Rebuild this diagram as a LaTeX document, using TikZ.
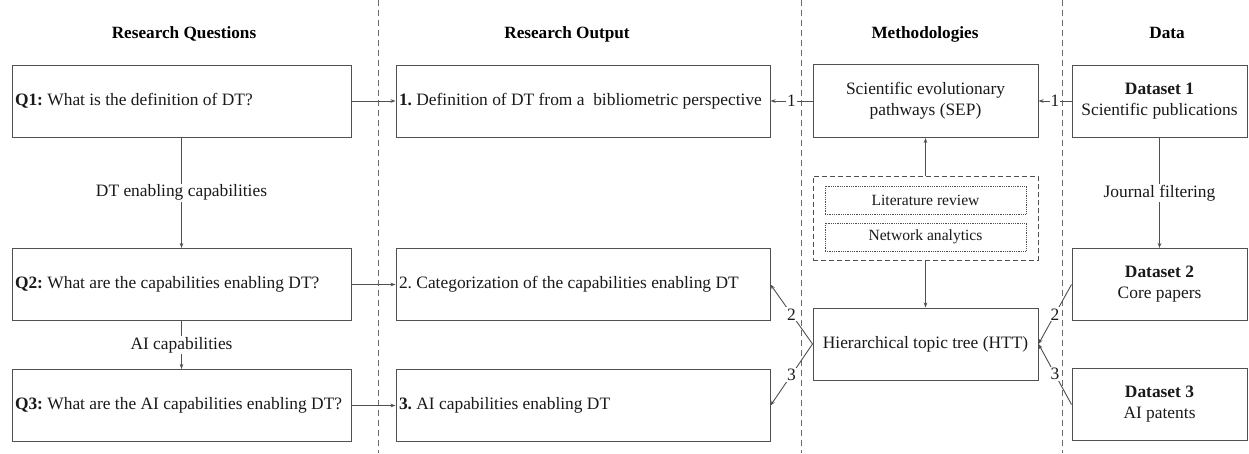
\documentclass[tikz,border=0pt]{standalone}
\usepackage{fontspec}
\setmainfont{Liberation Serif}
\usetikzlibrary{arrows.meta}
\definecolor{ln}{RGB}{80,80,80}
\definecolor{tx}{RGB}{25,25,25}
\frenchspacing
\begin{document}
\begin{tikzpicture}[x=1pt,y=-1pt,
  base/.style={draw=ln, line width=1pt, text=tx, inner sep=0pt, font=\fontsize{17.4}{21}\selectfont\frenchspacing},
  qbox/.style={base, minimum height=72pt, minimum width=339pt, text width=333pt, inner xsep=3pt, align=flush left},
  obox/.style={base, minimum height=72pt, minimum width=374pt, text width=368pt, inner xsep=3pt, align=flush left},
  mbox/.style={base, minimum height=73pt, minimum width=225pt, align=center},
  dbox/.style={base, minimum height=72pt, minimum width=175pt, align=center},
  grpbox/.style={draw=ln, line width=0.9pt, dash pattern=on 5pt off 3pt, minimum width=225pt, minimum height=84pt, inner sep=0pt},
  dotbox/.style={draw=ln, line width=0.8pt, densely dotted, minimum width=201pt, minimum height=28pt, inner sep=0pt, text=tx, font=\fontsize{15.6}{18}\selectfont},
  hdr/.style={text=black, font=\bfseries\fontsize{17.2}{20}\selectfont, anchor=base},
  arr/.style={draw=ln, line width=0.9pt, -{Stealth[length=5pt,width=3.6pt]}},
  lbl/.style={fill=white, inner sep=1pt, text=tx, font=\fontsize{17.4}{20}\selectfont},
  divider/.style={draw=ln!85, line width=0.9pt, dash pattern=on 6pt off 4pt}
]
\useasboundingbox (0,0) rectangle (1249,453);

% dividers
\draw[divider] (378,0) -- (378,453);
\draw[divider] (801,0) -- (801,453);
\draw[divider] (1062,0) -- (1062,453);

% headers
\node[hdr] (h1) at (184,38) {Research Questions};
\node[hdr] (h2) at (567,38) {Research Output};
\node[hdr] (h3) at (925,38) {Methodologies};
\node[hdr] (h4) at (1167,38) {Data};

% research questions
\node[qbox] (q1) at (181.5,101) {\textbf{Q1:} What is the definition of DT?};
\node[qbox] (q2) at (181.5,284.5) {\textbf{Q2:} What are the capabilities enabling DT?};
\node[qbox] (q3) at (181.5,405.5) {\textbf{Q3:} What are the AI capabilities enabling DT?};

% research output
\node[obox] (o1) at (583,101) {\textbf{1.} Definition of DT from a\ \ bibliometric perspective};
\node[obox] (o2) at (583,284.5) {2. Categorization of the capabilities enabling DT};
\node[obox] (o3) at (583,405.5) {\textbf{3.} AI capabilities enabling DT};

% methodologies
\node[mbox] (sep) at (925.5,101) {Scientific evolutionary\\pathways (SEP)};
\node[grpbox] (grp) at (925.5,218) {};
\node[dotbox] (lit) at (925.5,200) {Literature review};
\node[dotbox] (net) at (925.5,237) {Network analytics};
\node[mbox, minimum height=72pt] (htt) at (925.5,344) {Hierarchical topic tree (HTT)};

% data
\node[dbox] (d1) at (1159.5,101) {\textbf{Dataset 1}\\Scientific publications};
\node[dbox] (d2) at (1159.5,284.5) {\textbf{Dataset 2}\\Core papers};
\node[dbox] (d3) at (1159.5,404.5) {\textbf{Dataset 3}\\AI patents};

% connectors
\draw[arr] (q1) -- (o1);
\draw[arr] (q2) -- (o2);
\draw[arr] (q3) -- (o3);
\draw[arr] (q1) -- node[lbl] {DT enabling capabilities} (q2);
\draw[arr] (q2) -- node[lbl] {AI capabilities} (q3);

\draw[arr] (sep) -- node[lbl] {1} (o1);
\draw[arr] (d1) -- node[lbl] {1} (sep);
\draw[arr] (d1) -- node[lbl] {Journal filtering} (d2);

\draw[arr] (grp) -- (sep);
\draw[arr] (grp) -- (htt);

\draw[arr] (htt.west) -- node[lbl] {2} (o2.east);
\draw[arr] (htt.west) -- node[lbl] {3} (o3.east);
\draw[arr] (d2.west) -- node[lbl] {2} (htt.east);
\draw[arr] (d3.west) -- node[lbl] {3} (htt.east);
\end{tikzpicture}
\end{document}
